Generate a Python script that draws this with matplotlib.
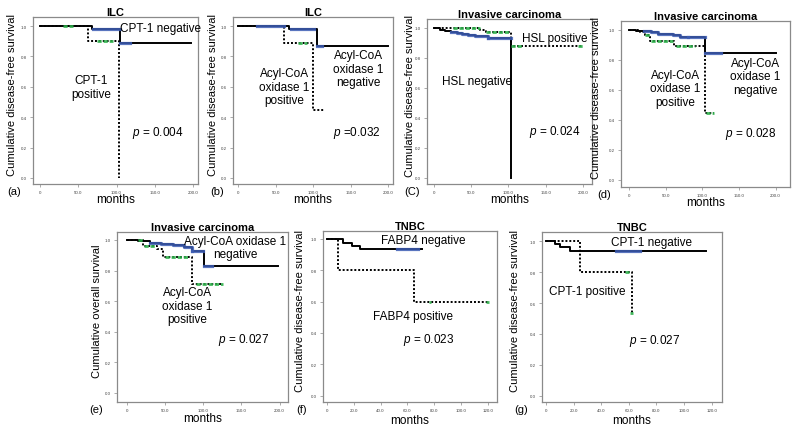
import matplotlib
matplotlib.use("Agg")
import matplotlib.pyplot as plt

plt.rcParams['font.family'] = ['Liberation Sans', 'DejaVu Sans']
plt.rcParams['mathtext.fontset'] = 'custom'
plt.rcParams['mathtext.it'] = 'Liberation Sans:italic'
plt.rcParams['mathtext.rm'] = 'Liberation Sans'

# ---- data (months, cumulative survival) ----
titles = ["ILC", "ILC", "Invasive carcinoma", "Invasive carcinoma",
          "Invasive carcinoma", "TNBC", "TNBC"]
letters = ["(a)", "(b)", "(C)", "(d)", "(e)", "(f)", "(g)"]
ylabels = ["Cumulative disease-free survival"] * 4 + ["Cumulative overall survival"] + \
          ["Cumulative disease-free survival"] * 2
p_values = ["$p$ = 0.004", "$p$ =0.032", "$p$ = 0.024", "$p$ = 0.028",
            "$p$ = 0.027", "$p$ = 0.023", "$p$ = 0.027"]

# (a) ILC, CPT-1
a_neg_t = [0, 68, 104, 198]
a_neg_s = [1.0, 0.982, 0.888, 0.888]
a_pos_t = [0, 63, 103, 103]
a_pos_s = [1.0, 0.90, 0.0, 0.0]
a_neg_cens = [(69, 104, 0.982), (104, 118, 0.888)]
a_pos_cens = [(30, 43, 1.0), (74, 96, 0.90)]

# (b) ILC, Acyl-CoA oxidase 1
b_neg_t = [0, 67, 105, 200]
b_neg_s = [1.0, 0.98, 0.868, 0.868]
b_pos_t = [0, 61, 100, 116]
b_pos_s = [1.0, 0.89, 0.445, 0.445]
b_neg_cens = [(25, 61, 1.0), (70, 101, 0.98), (105, 112, 0.868)]
b_pos_cens = [(80, 91, 0.89)]

# (c) invasive carcinoma, HSL
c_neg_t = [0, 8, 15, 22, 30, 38, 45, 55, 65, 72, 103, 103]
c_neg_s = [1.0, 0.99, 0.982, 0.975, 0.968, 0.96, 0.955, 0.95, 0.945, 0.933, 0.0, 0.0]
c_pos_t = [0, 62, 70, 104, 200]
c_pos_s = [1.0, 0.99, 0.973, 0.882, 0.882]
c_neg_cens = [(20, 72, None), (72, 103, 0.933)]
c_pos_cens = [(25, 62, 1.0), (70, 102, 0.973), (104, 118, 0.882), (194, 200, 0.882)]

# (d) invasive carcinoma, Acyl-CoA oxidase 1
d_neg_t = [0, 10, 20, 30, 40, 50, 60, 70, 80, 104, 200]
d_neg_s = [1.0, 0.995, 0.99, 0.985, 0.975, 0.97, 0.965, 0.955, 0.95, 0.846, 0.846]
d_pos_t = [0, 15, 22, 28, 62, 103, 116]
d_pos_s = [1.0, 0.985, 0.965, 0.928, 0.893, 0.445, 0.445]
d_neg_cens = [(20, 80, None), (80, 103, 0.95), (104, 125, 0.846)]
d_pos_cens = [(22, 28, 0.965), (30, 60, 0.928), (64, 90, 0.893), (105, 116, 0.445)]

# (e) invasive carcinoma, overall survival, Acyl-CoA oxidase 1
e_neg_t = [0, 15, 30, 45, 60, 75, 85, 101, 198]
e_neg_s = [1.0, 0.99, 0.98, 0.975, 0.965, 0.955, 0.93, 0.828, 0.828]
e_pos_t = [0, 21, 39, 48, 85, 126]
e_pos_s = [1.0, 0.96, 0.94, 0.89, 0.71, 0.71]
e_neg_cens = [(20, 85, None), (86, 100, 0.93), (101, 112, 0.828)]
e_pos_cens = [(15, 21, 1.0), (22, 38, 0.96), (50, 80, 0.89), (90, 126, 0.71)]

# (f) TNBC, FABP4
f_neg_t = [0, 12, 19, 25, 71]
f_neg_s = [1.0, 0.975, 0.955, 0.936, 0.936]
f_pos_t = [0, 8.5, 65, 121]
f_pos_s = [1.0, 0.80, 0.60, 0.60]
f_neg_cens = [(52, 68, 0.936)]
f_pos_cens = [(76, 78, 0.60), (119, 121, 0.60)]

# (g) TNBC, CPT-1
g_neg_t = [0, 6.5, 10, 17.6, 115.7]
g_neg_s = [1.0, 0.98, 0.96, 0.94, 0.94]
g_pos_t = [0, 24.6, 62, 62]
g_pos_s = [1.0, 0.80, 0.537, 0.537]
g_neg_cens = [(51, 68, 0.94)]
g_pos_cens = [(57, 60, 0.80), (61, 63, 0.537)]

neg_labels = ["CPT-1 negative", "Acyl-CoA\noxidase 1\nnegative", "HSL positive",
              "Acyl-CoA\noxidase 1\nnegative", "Acyl-CoA oxidase 1\nnegative",
              "FABP4 negative", "CPT-1 negative"]
pos_labels = ["CPT-1\npositive", "Acyl-CoA\noxidase 1\npositive", "HSL negative",
              "Acyl-CoA\noxidase 1\npositive", "Acyl-CoA\noxidase 1\npositive",
              "FABP4 positive", "CPT-1 positive"]

curves = [
    (a_neg_t, a_neg_s, a_pos_t, a_pos_s, a_neg_cens, a_pos_cens),
    (b_neg_t, b_neg_s, b_pos_t, b_pos_s, b_neg_cens, b_pos_cens),
    (c_neg_t, c_neg_s, c_pos_t, c_pos_s, c_neg_cens, c_pos_cens),
    (d_neg_t, d_neg_s, d_pos_t, d_pos_s, d_neg_cens, d_pos_cens),
    (e_neg_t, e_neg_s, e_pos_t, e_pos_s, e_neg_cens, e_pos_cens),
    (f_neg_t, f_neg_s, f_pos_t, f_pos_s, f_neg_cens, f_pos_cens),
    (g_neg_t, g_neg_s, g_pos_t, g_pos_s, g_neg_cens, g_pos_cens),
]

# ---- layout (pixels in the 792x431 image) ----
W, H = 792, 431
# box: left, right, top, bottom ; ylab_x, title_y, months_y, letter x
layout = [
    dict(box=(33, 198, 18, 185), xlim=(-9.2, 206.5), ylim=(-0.04, 1.06), ylx=12, ty=8, my=200, lx=14),
    dict(box=(233, 393, 18, 185), xlim=(-7, 206), ylim=(-0.04, 1.06), ylx=213, ty=8, my=200, lx=217),
    dict(box=(427, 592, 20, 185), xlim=(-9.8, 212.5), ylim=(-0.04, 1.06), ylx=410, ty=8, my=200, lx=412),
    dict(box=(621, 790, 22, 188), xlim=(-10.9, 219.6), ylim=(-0.05, 1.06), ylx=596, ty=9, my=203, lx=604),
    dict(box=(117, 288, 233, 403), xlim=(-12.7, 211), ylim=(-0.059, 1.052), ylx=97, ty=219, my=419, lx=96),
    dict(box=(323, 497, 232, 403), xlim=(-3, 127), ylim=(-0.04, 1.05), ylx=300, ty=220, my=421, lx=302),
    dict(box=(542, 722, 233, 403), xlim=(-3, 127.5), ylim=(-0.04, 1.06), ylx=515, ty=220, my=421, lx=521),
]
# annotation positions in data coords: neg label, pos label, p-value
ann = [
    ((105, 0.99, 'left'), (67, 0.60, 'center'), (120, 0.30)),
    ((160, 0.72, 'center'), (61, 0.60, 'center'), (126, 0.30)),
    ((118, 0.935, 'left'), (11, 0.65, 'left'), (127, 0.31)),
    ((172, 0.69, 'center'), (63, 0.61, 'center'), (131, 0.31)),
    ((142, 0.95, 'center'), (79, 0.57, 'center'), (120, 0.35)),
    ((40, 0.99, 'left'), (34, 0.51, 'left'), (57, 0.36)),
    ((47, 0.995, 'left'), (2.4, 0.68, 'left'), (60, 0.36)),
]

BLUE = '#3d5db4'
GREEN = '#2fb24c'
GRAY = '#8a8a8a'

fig = plt.figure(figsize=(W / 100, H / 100), dpi=100)

for i in range(7):
    L = layout[i]
    l, r, t, b = L['box']
    ax = fig.add_axes([l / W, 1 - b / H, (r - l) / W, (b - t) / H])
    nt, ns, pt, ps, ncens, pcens = curves[i]

    ax.step(pt, ps, where='post', color='black', lw=1.4, ls=(0, (1, 1)), zorder=3)
    ax.step(nt, ns, where='post', color='black', lw=1.4, zorder=4)

    # censored marks, dense enough to look like thick coloured strokes
    for t0, t1, s in ncens:
        if s is None:
            sel = [(tt, ss) for tt, ss in zip(nt, ns) if t0 <= tt <= t1]
            xs = [p[0] for p in sel] + [t1]
            ys = [p[1] for p in sel] + [sel[-1][1]]
            ax.step(xs, ys, where='post', color=BLUE, lw=2.3, alpha=0.85, zorder=5)
        else:
            ax.plot([t0, t1], [s, s], color=BLUE, lw=2.3, alpha=0.85, zorder=5)
    for t0, t1, s in pcens:
        ax.plot([t0, t1], [s, s], color=GREEN, lw=2.0, ls=(0, (1.5, 0.7)),
                alpha=0.9, zorder=5)

    ax.set_xlim(L['xlim'])
    ax.set_ylim(L['ylim'])
    if i < 5:
        xt = [0, 50, 100, 150, 200]
    else:
        xt = [0, 20, 40, 60, 80, 100, 120]
    ax.set_xticks(xt)
    ax.set_xticklabels(['0'] + ['%.1f' % v for v in xt[1:]])
    yt = [0.0, 0.2, 0.4, 0.6, 0.8, 1.0]
    ax.set_yticks(yt)
    ax.set_yticklabels(['%.1f' % v for v in yt])
    ax.tick_params(labelsize=3.2, labelcolor='#444444', length=2, width=0.5,
                   color=GRAY, pad=2.5)
    for sp in ax.spines.values():
        sp.set_color(GRAY)
        sp.set_linewidth(0.9)

    ax.set_title(titles[i], fontsize=8, fontweight='bold', pad=0)
    ax.title.set_position((0.5, 1 + (t - L['ty']) / (b - t)))
    ax.title.set_va('center')

    ax.set_ylabel(ylabels[i], fontsize=8)
    ax.yaxis.set_label_coords((L['ylx'] - l) / (r - l), 0.54)
    ax.yaxis.label.set_va('center')
    ax.set_xlabel('months', fontsize=8.5)
    ax.xaxis.set_label_coords(0.5, -(L['my'] - b) / (b - t))
    ax.xaxis.label.set_va('center')

    ax.text((L['lx'] - l) / (r - l), -7 / (b - t), letters[i],
            transform=ax.transAxes, fontsize=8, ha='center', va='center')

    (nx, ny, nha), (px, py, pha), (vx, vy) = ann[i]
    ax.text(nx, ny, neg_labels[i], fontsize=8.5, ha=nha, va='center',
            linespacing=1.15, zorder=6)
    ax.text(px, py, pos_labels[i], fontsize=8.5, ha=pha, va='center',
            linespacing=1.15, zorder=6)
    ax.text(vx, vy, p_values[i], fontsize=8.5, ha='left', va='center')

fig.savefig('out.png', dpi=100)
